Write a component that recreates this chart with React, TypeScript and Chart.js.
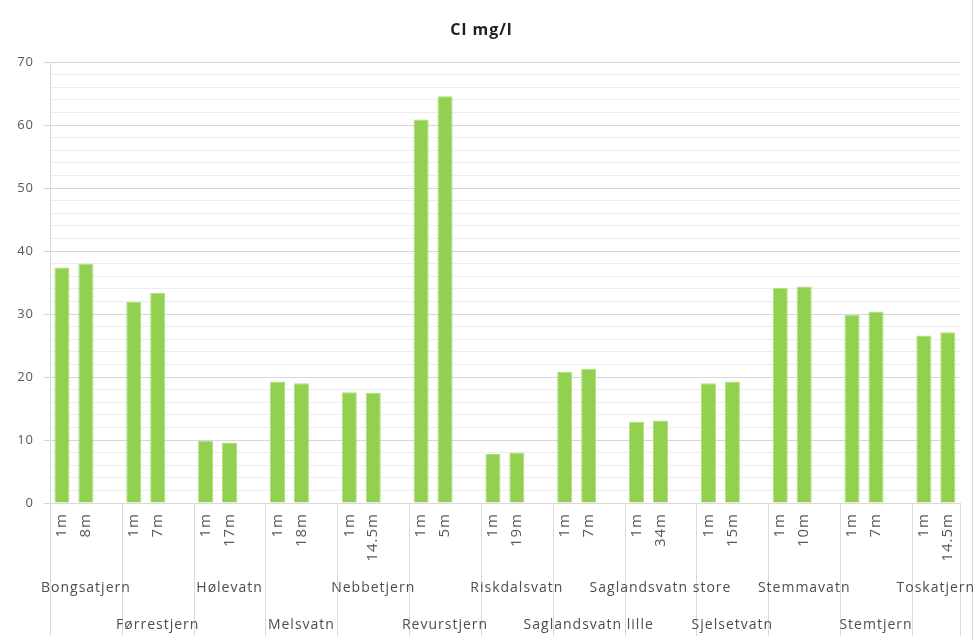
import React, { useEffect, useRef } from "react";
import { Chart, registerables } from "chart.js";

Chart.register(...registerables);

// Lakes sampled, in axis order
const lakeNames = [
  "Bongsatjern",
  "Førrestjern",
  "Hølevatn",
  "Melsvatn",
  "Nebbetjern",
  "Revurstjern",
  "Riskdalsvatn",
  "Saglandsvatn lille",
  "Saglandsvatn store",
  "Sjelsetvatn",
  "Stemmavatn",
  "Stemtjern",
  "Toskatjern",
];

// Surface sample depth and the deep sample depth for each lake
const surfaceDepth = "1m";
const deepDepths = ["8m", "7m", "17m", "18m", "14.5m", "5m", "19m", "7m", "34m", "15m", "10m", "7m", "14.5m"];

// Chloride, mg/l
const surfaceCl = [37.4, 31.9, 9.9, 19.3, 17.6, 60.9, 7.8, 20.8, 12.9, 19.0, 34.2, 29.9, 26.6];
const deepCl = [38.0, 33.4, 9.6, 19.0, 17.5, 64.6, 8.0, 21.3, 13.1, 19.3, 34.4, 30.4, 27.1];

// Y axis range and tick spacing
const yMax = 70;
const yMajorStep = 10;
const yMinorStep = 2;

// Build the flat category list: two samples per lake, then an empty spacer slot
const categories: string[] = [];
const values: (number | null)[] = [];
const groupStart: number[] = [];
lakeNames.forEach((_, i) => {
  groupStart.push(categories.length);
  categories.push(surfaceDepth);
  values.push(surfaceCl[i]);
  categories.push(deepDepths[i]);
  values.push(deepCl[i]);
  if (i < lakeNames.length - 1) {
    categories.push("");
    values.push(null);
  }
});

const FONT = "'Open Sans', 'Liberation Sans', sans-serif";
const TEXT = "#595959";

// Slightly spaced lettering for all axis text
const spacingPlugin = {
  id: "spacing",
  beforeDraw(chart: any) {
    (chart.ctx as any).letterSpacing = "1px";
  },
  afterDraw(chart: any) {
    (chart.ctx as any).letterSpacing = "0px";
  },
};

// Draws the lake-name row of the category axis and its group dividers
const groupAxisPlugin = {
  id: "groupAxis",
  afterDraw(chart: any) {
    const { ctx, chartArea, scales } = chart;
    const x = scales.x;
    const half = (x.getPixelForValue(1) - x.getPixelForValue(0)) / 2;
    const bottom = chart.height - 4;
    ctx.save();
    ctx.strokeStyle = "#d9d9d9";
    ctx.lineWidth = 1;
    const edges: number[] = [chartArea.left];
    groupStart.forEach((s, i) => {
      const end = i < lakeNames.length - 1 ? groupStart[i + 1] : categories.length;
      edges.push(x.getPixelForValue(end - 1) + half);
    });
    edges.forEach((px) => {
      const p = Math.round(px) + 0.5;
      ctx.beginPath();
      ctx.moveTo(p, chartArea.bottom);
      ctx.lineTo(p, bottom);
      ctx.stroke();
    });
    // outer frame line on the right
    ctx.beginPath();
    ctx.moveTo(chart.width - 3.5, 0);
    ctx.lineTo(chart.width - 3.5, chart.height);
    ctx.stroke();

    (ctx as any).letterSpacing = "1px";
    ctx.fillStyle = "#4d4d4d";
    ctx.font = `14px ${FONT}`;
    ctx.textAlign = "center";
    ctx.textBaseline = "middle";
    lakeNames.forEach((name, i) => {
      const cx = (edges[i] + edges[i + 1]) / 2;
      const cy = i % 2 === 0 ? chartArea.bottom + 85 : chartArea.bottom + 122;
      ctx.fillText(name, cx, cy);
    });
    (ctx as any).letterSpacing = "0px";
    ctx.restore();
  },
};

export default function App() {
  const canvasRef = useRef<HTMLCanvasElement | null>(null);

  useEffect(() => {
    if (!canvasRef.current) return;
    const chart = new Chart(canvasRef.current, {
      type: "bar",
      data: {
        labels: categories,
        datasets: [
          {
            label: "Cl mg/l",
            data: values,
            backgroundColor: "#92D050",
            borderColor: "#ade07a",
            borderWidth: 1,
            barPercentage: 0.63,
            categoryPercentage: 1,
          },
        ],
      },
      options: {
        animation: false,
        responsive: false,
        maintainAspectRatio: false,
        layout: { padding: { left: 0, right: 13, top: 0, bottom: 0 } },
        plugins: {
          legend: { display: false },
          tooltip: { enabled: false },
          title: {
            display: true,
            text: "Cl mg/l",
            color: "#1f1f1f",
            font: { family: FONT, size: 16, weight: "bold" },
            padding: { top: 21, bottom: 22 },
          },
        },
        scales: {
          x: {
            grid: { display: false, drawTicks: false },
            border: { display: true, color: "#d9d9d9" },
            ticks: {
              autoSkip: false,
              minRotation: 90,
              maxRotation: 90,
              padding: 10,
              color: TEXT,
              font: { family: FONT, size: 15 },
            },
            afterFit(scale: any) {
              scale.height = 137;
            },
          },
          y: {
            min: 0,
            max: yMax,
            ticks: {
              stepSize: yMinorStep,
              autoSkip: false,
              color: TEXT,
              padding: 10,
              font: { family: FONT, size: 13 },
              callback: (v: any) => (Number(v) % yMajorStep === 0 ? String(v) : ""),
            },
            grid: {
              color: (c: any) => (c.tick && c.tick.value % yMajorStep === 0 ? "#d6d6d6" : "#ececec"),
              tickColor: (c: any) => (c.tick && c.tick.value % yMajorStep === 0 ? "#d6d6d6" : "rgba(0,0,0,0)"),
              tickLength: 6,
            },
            border: { display: true, color: "#d9d9d9" },
            afterFit(scale: any) {
              scale.width = 50;
            },
          },
        },
      },
      plugins: [spacingPlugin, groupAxisPlugin],
    });
    return () => chart.destroy();
  }, []);

  return (
    <div style={{ position: "fixed", left: 0, top: 0, width: 976, height: 640, background: "#fff" }}>
      <canvas ref={canvasRef} width={976} height={640} style={{ width: 976, height: 640 }} />
    </div>
  );
}
